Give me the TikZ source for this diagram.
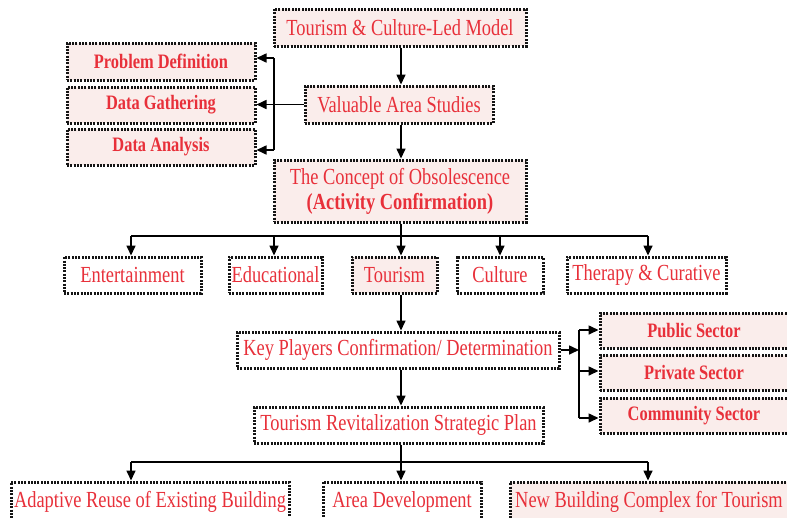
\documentclass[tikz,border=0pt]{standalone}
\usepackage{fontspec}
\setmainfont{Liberation Serif}[FakeStretch=0.8]
\usetikzlibrary{arrows.meta}
\definecolor{boxred}{RGB}{232,48,58}
\definecolor{boxpink}{RGB}{250,237,235}
\definecolor{edge}{RGB}{20,20,20}
\tikzset{
  box/.style={draw=edge, line width=3pt, dash pattern=on 2pt off 1.3pt,
    inner sep=0pt, text=boxred, align=center,
    font=\fontsize{23}{25}\selectfont},
  pinkbox/.style={box, fill=boxpink},
  plainbox/.style={box, fill=white},
  boldbox/.style={pinkbox, font=\fontsize{20.5}{23}\selectfont\bfseries},
  link/.style={draw=black, line width=1.6pt, -{Triangle[length=10pt,width=9pt]}},
  wire/.style={draw=black, line width=1.6pt},
}
\begin{document}
\begin{tikzpicture}[x=1pt,y=-1pt]
\useasboundingbox (0,0) rectangle (787,517);

% main column
\node[pinkbox, minimum width=252pt, minimum height=37pt] (model) at (400,27.5) {Tourism \& Culture-Led Model};
\node[pinkbox, minimum width=188pt, minimum height=37pt] (vas) at (399,104.5) {Valuable Area Studies};
\node[pinkbox, minimum width=252pt, minimum height=62pt] (obs) at (400,191) {The Concept of Obsolescence\\\textbf{(Activity Confirmation)}};

% study steps
\node[boldbox, minimum width=188pt, minimum height=37pt] (pd) at (161,61.5) {Problem Definition};
\node[boldbox, minimum width=188pt, minimum height=36pt] (dg) at (161,105) {Data Gathering};
\node[boldbox, minimum width=188pt, minimum height=36pt] (da) at (161,147) {Data Analysis};

% activities
\node[plainbox, minimum width=137pt, minimum height=36pt] (ent) at (132.5,275) {Entertainment};
\node[plainbox, minimum width=93pt, minimum height=36pt] (edu) at (275.5,275) {Educational};
\node[pinkbox, minimum width=85pt, minimum height=36pt] (tour) at (394.5,275) {Tourism};
\node[plainbox, minimum width=86pt, minimum height=36pt] (cult) at (500,275) {Culture};
\node[plainbox, minimum width=159pt, minimum height=36pt] (ther) at (646.5,275) {Therapy \& Curative};

% key players and sectors
\node[plainbox, minimum width=322pt, minimum height=36pt] (key) at (398,350) {Key Players Confirmation/ Determination};
\node[boldbox, minimum width=188pt, minimum height=35pt] (pub) at (694,330.5) {Public Sector};
\node[boldbox, minimum width=188pt, minimum height=35pt] (priv) at (694,372.5) {Private Sector};
\node[boldbox, minimum width=188pt, minimum height=35pt] (comm) at (694,415.5) {Community Sector};

% strategic plan and outcomes
\node[plainbox, minimum width=289pt, minimum height=36pt] (rev) at (398.5,425) {Tourism Revitalization Strategic Plan};
\node[plainbox, minimum width=278pt, minimum height=40pt] (adapt) at (150,502) {Adaptive Reuse of Existing Building};
\node[plainbox, minimum width=158pt, minimum height=40pt] (area) at (402,502) {Area Development};
\node[pinkbox, minimum width=278pt, minimum height=40pt] (newb) at (649,502) {New Building Complex for Tourism};

% junction points
\coordinate (mx) at (401,0);
\coordinate (ltop) at (274,58);
\coordinate (lbot) at (274,150);
\coordinate (r1) at (131,236);
\coordinate (r2) at (274,236);
\coordinate (r3) at (401,236);
\coordinate (r4) at (500,236);
\coordinate (r5) at (648,236);
\coordinate (st) at (579,330);
\coordinate (sm) at (579,371);
\coordinate (sb) at (579,418);
\coordinate (q1) at (131,462);
\coordinate (q2) at (401,462);
\coordinate (q3) at (648,462);

% main flow
\draw[link] (mx |- model.south) -- (mx |- vas.north);
\draw[link] (mx |- vas.south) -- (mx |- obs.north);

% studies branch
\draw[link] (vas.west) -- (dg.east |- vas.west);
\draw[wire] (ltop) -- (lbot);
\draw[link] (ltop) -- (ltop -| pd.east);
\draw[link] (lbot) -- (lbot -| da.east);

% activity branch
\draw[wire] (mx |- obs.south) -- (r3);
\draw[wire] (r1) -- (r5);
\draw[link] (r1) -- (r1 |- ent.north);
\draw[link] (r2) -- (r2 |- edu.north);
\draw[link] (r3) -- (r3 |- tour.north);
\draw[link] (r4) -- (r4 |- cult.north);
\draw[link] (r5) -- (r5 |- ther.north);

% key players
\draw[link] (mx |- tour.south) -- (mx |- key.north);
\draw[link] (key.east) -- (key.east -| st);
\draw[wire] (st) -- (sb);
\draw[link] (st) -- (st -| pub.west);
\draw[link] (sm) -- (sm -| priv.west);
\draw[link] (sb) -- (sb -| comm.west);

% strategic plan
\draw[link] (mx |- key.south) -- (mx |- rev.north);
\draw[wire] (mx |- rev.south) -- (q2);
\draw[wire] (q1) -- (q3);
\draw[link] (q1) -- (q1 |- adapt.north);
\draw[link] (q2) -- (q2 |- area.north);
\draw[link] (q3) -- (q3 |- newb.north);
\end{tikzpicture}
\end{document}
